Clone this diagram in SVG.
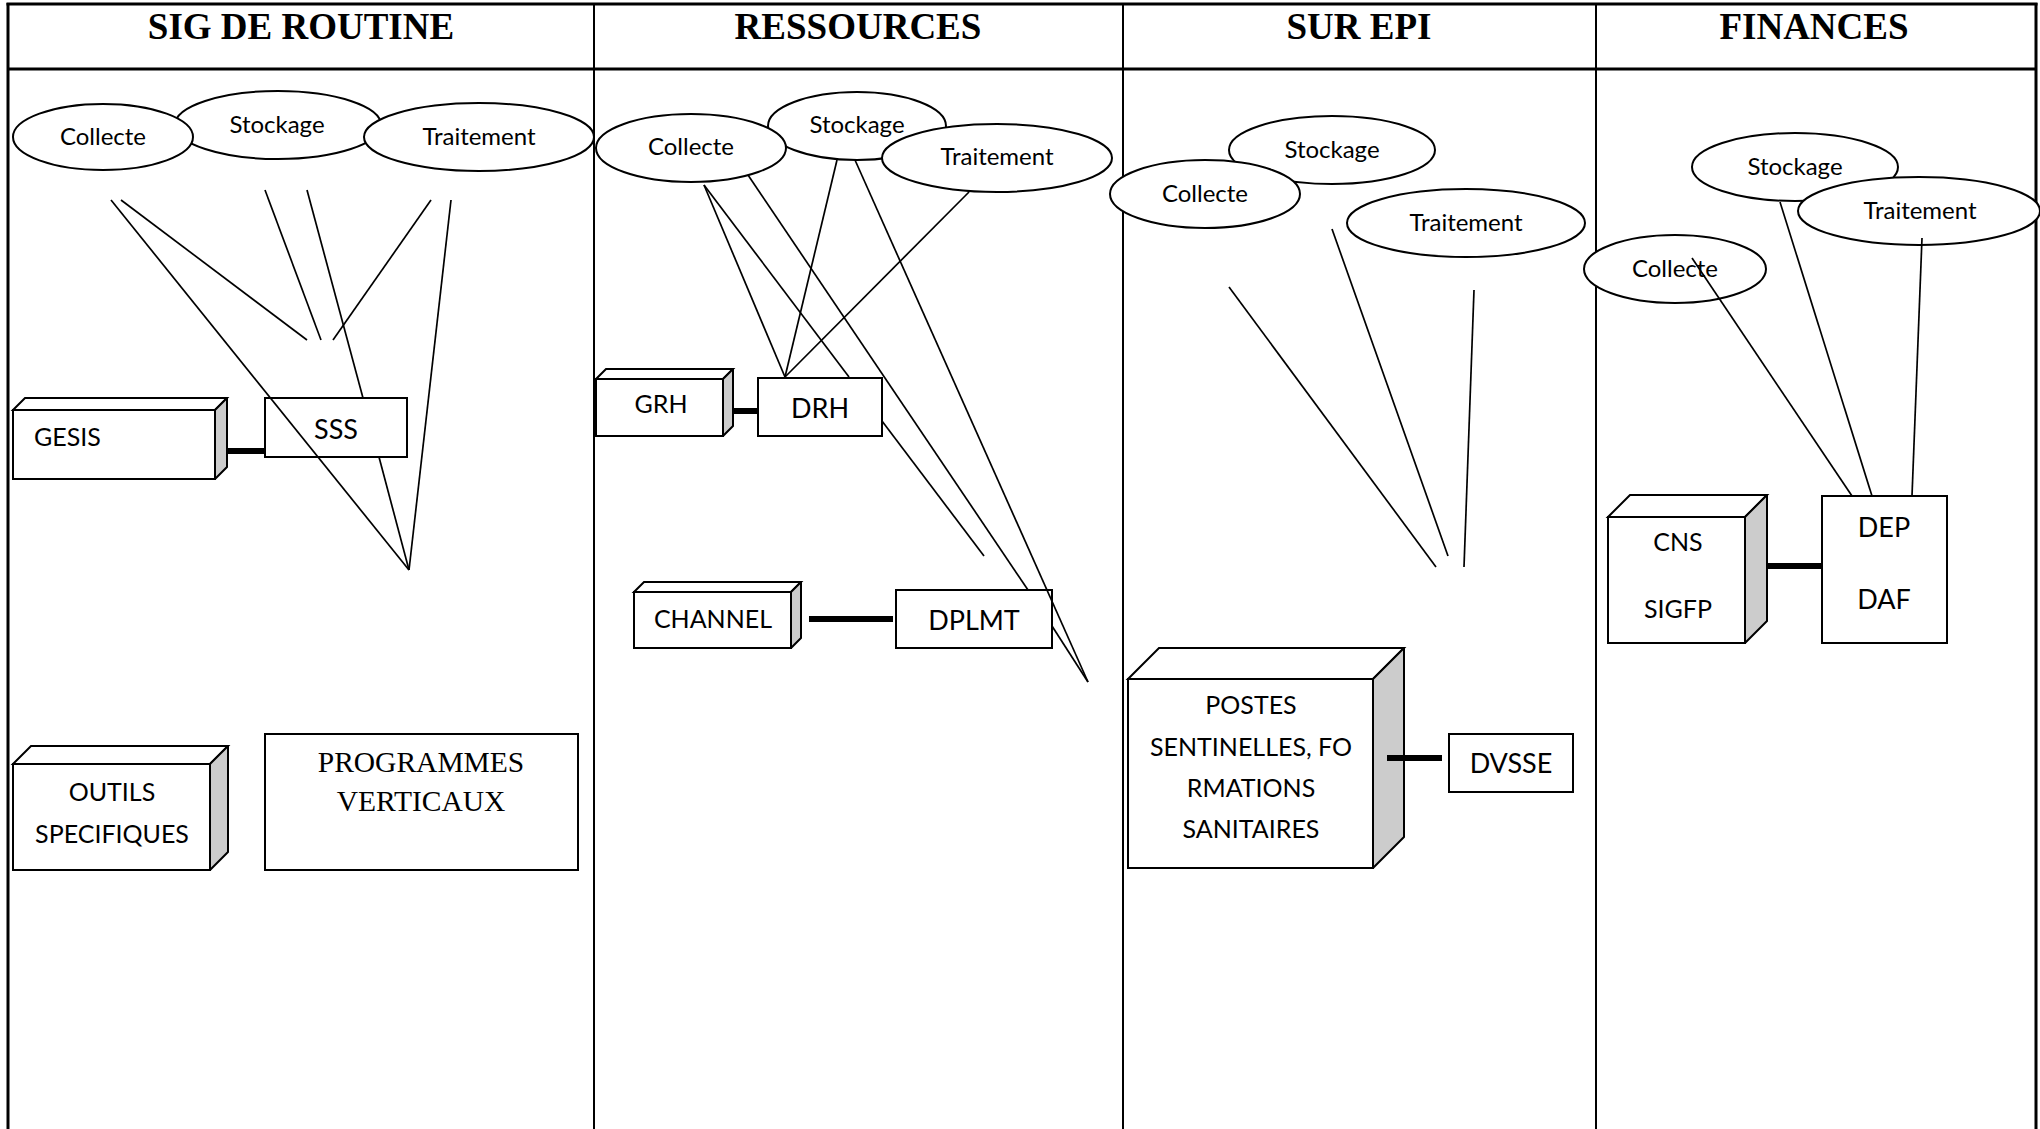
<svg xmlns="http://www.w3.org/2000/svg" width="2040" height="1129" viewBox="0 0 2040 1129">
<style>
.bg{fill:#fff}
.tbl{stroke:#000;fill:none}
.hdr{font-family:"Liberation Serif","Times New Roman",serif;font-weight:bold;font-size:37px;text-anchor:middle;fill:#000}
.ell{fill:#fff;stroke:#000;stroke-width:2}
.et{font-family:Lato,"Liberation Sans",sans-serif;font-size:24px;text-anchor:middle;fill:#000}
.box{fill:#fff;stroke:#000;stroke-width:2}
.side{fill:#cccccc;stroke:#000;stroke-width:2;stroke-linejoin:round}
.bt{font-family:Lato,"Liberation Sans",sans-serif;font-size:25px;text-anchor:middle;fill:#000}
.bt2{font-family:Lato,"Liberation Sans",sans-serif;font-size:27px;text-anchor:middle;fill:#000}
.st{font-family:"Liberation Serif","Times New Roman",serif;font-size:29.5px;text-anchor:middle;fill:#000}
.ln{stroke:#000;stroke-width:1.7;fill:none}
.thick{stroke:#000;stroke-width:6;fill:none}
</style>
<rect class="bg" x="0" y="0" width="2040" height="1129"/>
<g id="table">
<line class="tbl" x1="6.5" y1="4" x2="2037.5" y2="4" stroke-width="3"/>
<line class="tbl" x1="8" y1="69" x2="2036" y2="69" stroke-width="3"/>
<line class="tbl" x1="8" y1="3" x2="8" y2="1129" stroke-width="3"/>
<line class="tbl" x1="2036" y1="3" x2="2036" y2="1129" stroke-width="3"/>
<line class="tbl" x1="594" y1="4" x2="594" y2="1129" stroke-width="2"/>
<line class="tbl" x1="1123" y1="4" x2="1123" y2="1129" stroke-width="2"/>
<line class="tbl" x1="1596" y1="4" x2="1596" y2="1129" stroke-width="2"/>
<text class="hdr" x="301" y="39">SIG DE ROUTINE</text>
<text class="hdr" x="858" y="39">RESSOURCES</text>
<text class="hdr" x="1359" y="39">SUR EPI</text>
<text class="hdr" x="1814" y="39">FINANCES</text>
</g>

<!-- Column 1 -->
<g id="c1-stockage"><ellipse class="ell" cx="278" cy="125" rx="103" ry="34"/><text class="et" x="277" y="133">Stockage</text></g>
<g id="c1-collecte"><ellipse class="ell" cx="103" cy="137" rx="90" ry="33"/><text class="et" x="103" y="145">Collecte</text></g>
<g id="c1-traitement"><ellipse class="ell" cx="479" cy="137" rx="115" ry="34"/><text class="et" x="479" y="145">Traitement</text></g>
<g id="c1-gesis">
<rect class="box" x="13" y="410" width="202" height="69"/>
<polygon class="box" points="13,410 25,398 227,398 215,410"/>
<polygon class="side" points="215,410 227,398 227,467 215,479"/>
<text class="bt" x="34" y="446" style="text-anchor:start">GESIS</text>
</g>
<g id="c1-sss"><rect class="box" x="265" y="398" width="142" height="59"/><text class="bt2" x="336" y="439">SSS</text></g>
<g id="c1-outils">
<rect class="box" x="13" y="764" width="197" height="106"/>
<polygon class="box" points="13,764 31,746 228,746 210,764"/>
<polygon class="side" points="210,764 228,746 228,852 210,870"/>
<text class="bt" x="112" y="801">OUTILS</text>
<text class="bt" x="112" y="843">SPECIFIQUES</text>
</g>
<g id="c1-programmes"><rect class="box" x="265" y="734" width="313" height="136"/><text class="st" x="421" y="772">PROGRAMMES</text><text class="st" x="421" y="811">VERTICAUX</text></g>

<!-- Column 2 -->
<g id="c2-stockage"><ellipse class="ell" cx="857" cy="126" rx="89" ry="34"/><text class="et" x="857" y="133">Stockage</text></g>
<g id="c2-collecte"><ellipse class="ell" cx="691" cy="148" rx="95" ry="34"/><text class="et" x="691" y="155">Collecte</text></g>
<g id="c2-traitement"><ellipse class="ell" cx="997" cy="158" rx="115" ry="34"/><text class="et" x="997" y="165">Traitement</text></g>
<g id="c2-grh">
<rect class="box" x="596" y="379" width="127" height="57"/>
<polygon class="box" points="596,379 606,369 733,369 723,379"/>
<polygon class="side" points="723,379 733,369 733,426 723,436"/>
<text class="bt" x="661" y="413">GRH</text>
</g>
<g id="c2-drh"><rect class="box" x="758" y="378" width="124" height="58"/><text class="bt2" x="820" y="418">DRH</text></g>
<g id="c2-channel">
<rect class="box" x="634" y="592" width="157" height="56"/>
<polygon class="box" points="634,592 644,582 801,582 791,592"/>
<polygon class="side" points="791,592 801,582 801,638 791,648"/>
<text class="bt" x="713" y="628">CHANNEL</text>
</g>
<g id="c2-dplmt"><rect class="box" x="896" y="590" width="156" height="58"/><text class="bt2" x="974" y="630">DPLMT</text></g>

<!-- Column 3 -->
<g id="c3-stockage"><ellipse class="ell" cx="1332" cy="150" rx="103" ry="34"/><text class="et" x="1332" y="158">Stockage</text></g>
<g id="c3-collecte"><ellipse class="ell" cx="1205" cy="194" rx="95" ry="34"/><text class="et" x="1205" y="202">Collecte</text></g>
<g id="c3-traitement"><ellipse class="ell" cx="1466" cy="223" rx="119" ry="34"/><text class="et" x="1466" y="231">Traitement</text></g>
<g id="c3-postes">
<rect class="box" x="1128" y="679" width="245" height="189"/>
<polygon class="box" points="1128,679 1159,648 1404,648 1373,679"/>
<polygon class="side" points="1373,679 1404,648 1404,837 1373,868"/>
<text class="bt" x="1251" y="714">POSTES</text>
<text class="bt" x="1251" y="756">SENTINELLES, FO</text>
<text class="bt" x="1251" y="797">RMATIONS</text>
<text class="bt" x="1251" y="838">SANITAIRES</text>
</g>
<g id="c3-dvsse"><rect class="box" x="1449" y="734" width="124" height="58"/><text class="bt2" x="1511" y="773">DVSSE</text></g>

<!-- Column 4 -->
<g id="c4-stockage"><ellipse class="ell" cx="1795" cy="167" rx="103" ry="34"/><text class="et" x="1795" y="175">Stockage</text></g>
<g id="c4-traitement"><ellipse class="ell" cx="1919" cy="211" rx="121" ry="34"/><text class="et" x="1920" y="219">Traitement</text></g>
<g id="c4-collecte"><ellipse class="ell" cx="1675" cy="269" rx="91" ry="34"/><text class="et" x="1675" y="277">Collecte</text></g>
<g id="c4-cns">
<rect class="box" x="1608" y="517" width="137" height="126"/>
<polygon class="box" points="1608,517 1630,495 1767,495 1745,517"/>
<polygon class="side" points="1745,517 1767,495 1767,621 1745,643"/>
<text class="bt" x="1678" y="551">CNS</text>
<text class="bt" x="1678" y="618">SIGFP</text>
</g>
<g id="c4-dep"><rect class="box" x="1822" y="496" width="125" height="147"/><text class="bt2" x="1884" y="537">DEP</text><text class="bt2" x="1884" y="609">DAF</text></g>

<g id="connectors">
<!-- column 1 -->
<line class="ln" x1="111" y1="200" x2="409" y2="570"/>
<line class="ln" x1="121" y1="200" x2="307" y2="340"/>
<line class="ln" x1="265" y1="190" x2="321" y2="340"/>
<line class="ln" x1="307" y1="190" x2="363" y2="398"/>
<line class="ln" x1="379" y1="457" x2="409" y2="570"/>
<line class="ln" x1="431" y1="200" x2="333" y2="340"/>
<line class="ln" x1="451" y1="200" x2="409" y2="570"/>
<line class="thick" x1="227" y1="451" x2="265" y2="451"/>
<!-- column 2 -->
<line class="ln" x1="704" y1="185" x2="785" y2="377"/>
<line class="ln" x1="704" y1="185" x2="849" y2="377"/>
<line class="ln" x1="882" y1="421" x2="984" y2="556"/>
<line class="ln" x1="748" y1="175" x2="1028" y2="590"/>
<line class="ln" x1="1052" y1="626" x2="1088" y2="682"/>
<line class="ln" x1="837" y1="160" x2="785" y2="377"/>
<line class="ln" x1="855" y1="160" x2="1088" y2="682"/>
<line class="ln" x1="969" y1="192" x2="785" y2="377"/>
<line class="thick" x1="733" y1="411" x2="758" y2="411"/>
<line class="thick" x1="809" y1="619" x2="893" y2="619"/>
<!-- column 3 -->
<line class="ln" x1="1229" y1="287" x2="1436" y2="567"/>
<line class="ln" x1="1332" y1="229" x2="1448" y2="556"/>
<line class="ln" x1="1474" y1="290" x2="1464" y2="567"/>
<line class="thick" x1="1387" y1="758" x2="1442" y2="758"/>
<!-- column 4 -->
<line class="ln" x1="1692" y1="258" x2="1852" y2="496"/>
<line class="ln" x1="1780" y1="202" x2="1872" y2="496"/>
<line class="ln" x1="1922" y1="238" x2="1912" y2="496"/>
<line class="thick" x1="1767" y1="566" x2="1822" y2="566"/>
</g>
</svg>
